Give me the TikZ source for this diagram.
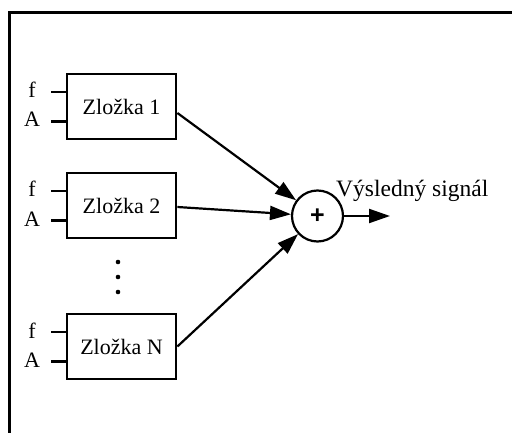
\documentclass[tikz,border=0pt]{standalone}
\usepackage{fontspec}
\setmainfont{Liberation Serif}
\setsansfont{Liberation Sans}
\usetikzlibrary{arrows.meta}
\begin{document}
\begin{tikzpicture}[x=1pt,y=-1pt,
  every node/.style={font=\fontsize{22}{26}\selectfont},
  compbox/.style={draw,line width=2.8pt,minimum width=109pt,minimum height=65pt,inner sep=0pt},
  sumnode/.style={draw,circle,line width=2.2pt,minimum size=51pt,inner sep=0pt},
  stub/.style={line width=2.4pt},
  conn/.style={line width=2.2pt,-{Triangle[length=21pt,width=14pt]}},
  lbl/.style={anchor=base,inner sep=0pt},
  dotmark/.style={circle,fill,minimum size=4.6pt,inner sep=0pt}]
\useasboundingbox (0,0) rectangle (512,433);
\fill[white] (0,0) rectangle (512,433);
\coordinate (fb) at (9.5,434);
\coordinate (fc) at (9.5,12.5);
\coordinate (fr) at (513,12.5);
\draw[line width=2.2pt] (fb) -- (fc) -- (fr);

\node[compbox] (b1) at (121.5,106.5) {Zložka 1};
\node[compbox] (b2) at (121.5,205.5) {Zložka 2};
\node[compbox] (bN) at (121.5,346.5) {Zložka N};

\foreach \b/\t in {b1/74,b2/173,bN/314}{
  \coordinate (\b f) at (51,\t+18);
  \coordinate (\b a) at (51,\t+47.5);
  \draw[stub] (\b f) -- (\b f -| \b.west);
  \draw[stub] (\b a) -- (\b a -| \b.west);
  \node[lbl] (\b fl) at (32,\t+24) {f};
  \node[lbl] (\b al) at (32,\t+53) {A};
}

\node[dotmark] (d1) at (118,262) {};
\node[dotmark] (d2) at (118,277) {};
\node[dotmark] (d3) at (118,292) {};

\node[sumnode] (sum) at (317.5,216) {\fontsize{25}{25}\selectfont\bfseries\sffamily +};
\coordinate (out) at (390,216);
\node[anchor=base west,inner sep=0pt,font=\fontsize{23.5}{27}\selectfont] (res) at (336,197) {Výsledný signál};

\draw[conn] ([yshift=-6.5pt]b1.east) -- (sum);
\draw[conn] ([yshift=-1.5pt]b2.east) -- (sum);
\draw[conn] (bN.east) -- (sum);
\draw[conn] (sum.east) -- (out);
\end{tikzpicture}
\end{document}
